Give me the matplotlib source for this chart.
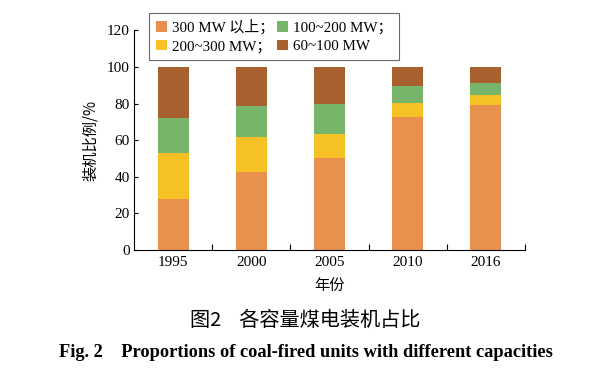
import numpy as np
import matplotlib.pyplot as plt

plt.rcParams['font.family'] = ['Liberation Serif', 'Noto Sans CJK SC']

years = ['1995', '2000', '2005', '2010', '2016']
cap_300_up = [28, 42.5, 50.5, 72.5, 79]
cap_200_300 = [25, 19, 13, 8, 5.5]
cap_100_200 = [19, 17, 16.5, 9, 6.5]
cap_60_100 = [28, 21.5, 20, 10.5, 9]

labels = ['300 MW 以上；', '200~300 MW；', '100~200 MW；', '60~100 MW']
colors = ['#E8914F', '#F6C124', '#77B56B', '#A8612E']
series = [cap_300_up, cap_200_300, cap_100_200, cap_60_100]

fig = plt.figure(figsize=(6.04, 3.84), dpi=100)
ax = fig.add_axes([0.222, 0.349, 0.647, 0.572])

x = np.arange(len(years))
bottom = np.zeros(len(years))
for vals, lab, col in zip(series, labels, colors):
    ax.bar(x, vals, width=0.4, bottom=bottom, color=col, label=lab)
    bottom += np.array(vals)

ax.set_xlim(-0.5, 4.5)
ax.set_ylim(0, 120)
ax.set_yticks(range(0, 121, 20))
ax.set_xticks(x)
ax.set_xticklabels(years)
ax.set_xticks(np.arange(0.5, 4.6, 1), minor=True)
ax.tick_params(axis='x', which='major', length=0, labelsize=11, pad=4)
ax.tick_params(axis='x', which='minor', direction='in', length=4, width=0.8)
ax.tick_params(axis='y', direction='in', length=3, width=0.8, labelsize=11, pad=3)
for s in ['top', 'right']:
    ax.spines[s].set_visible(False)
for s in ['left', 'bottom']:
    ax.spines[s].set_linewidth(0.8)

ax.set_ylabel('装机比例/%', fontsize=11, family=['Noto Sans CJK SC'], labelpad=6)
ax.set_xlabel('年份', fontsize=11, family=['Noto Sans CJK SC'], labelpad=6)

leg = ax.legend(ncol=2, loc='upper left', bbox_to_anchor=(0.02, 1.115),
                frameon=True, fancybox=False, edgecolor='#444444',
                handlelength=0.7, handleheight=0.7, handletextpad=0.35,
                columnspacing=0.2, borderpad=0.45, labelspacing=0.35,
                prop={'family': ['Liberation Serif', 'Noto Sans CJK SC'], 'size': 10.8})
leg.get_frame().set_linewidth(0.8)

fig.text(0.505, 0.165, '图2    各容量煤电装机占比', ha='center', va='center',
         fontsize=14.5, fontweight='medium', family=['Noto Sans CJK SC'])
fig.text(0.507, 0.083, 'Fig. 2    Proportions of coal-fired units with different capacities',
         ha='center', va='center', fontsize=13.2, fontweight='bold',
         family=['Liberation Serif'])

fig.savefig('out.png', dpi=100)
